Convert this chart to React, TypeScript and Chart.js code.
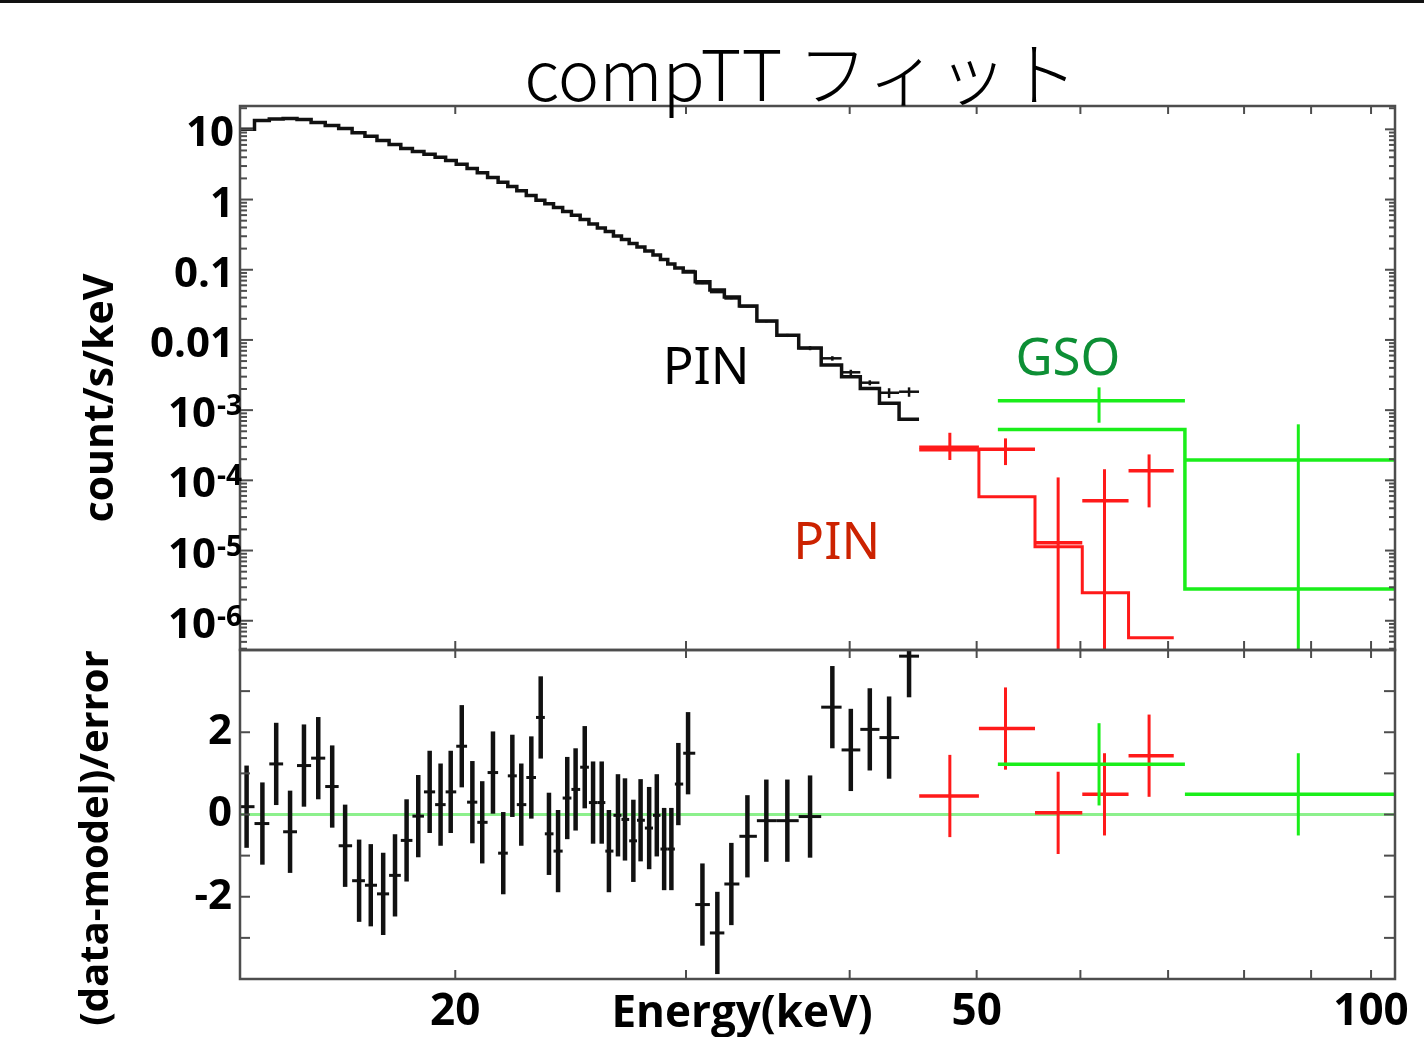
import React, { useEffect, useRef } from "react";
import { Chart, registerables } from "chart.js";

Chart.register(...registerables);

const W = 1424;
const H = 1037;

// ---------- axis ranges / ticks ----------
const xMin = 13.7;
const xMax = 104.3;
const yTopMin = 3.83e-7;
const yTopMax = 21.5;
const resMin = -4;
const resMax = 4;

const xTickValues = [20, 30, 40, 50, 60, 70, 80, 90, 100];
const xLabelValues = [20, 50, 100];
const topLabelValues = [10, 1, 0.1, 0.01, 1e-3, 1e-4, 1e-5, 1e-6];
const topLabelBase = ["10", "1", "0.1", "0.01", "10", "10", "10", "10"];
const topLabelSup = ["", "", "", "", "-3", "-4", "-5", "-6"];
const resTickValues = [-3, -2, -1, 0, 1, 2, 3];
const resLabelValues = [-2, 0, 2];

// ---------- PIN (black) : bin centres (keV), model, residuals ----------
const pinEnergy = [
  13.86, 14.25, 14.6, 14.96, 15.33, 15.72, 16.11, 16.48, 16.89, 17.24,
  17.62, 17.99, 18.36, 18.74, 19.12, 19.49, 19.84, 20.23, 20.61, 20.97,
  21.37, 21.76, 22.11, 22.46, 22.86, 23.24, 23.58, 23.96, 24.35, 24.71,
  25.11, 25.48, 25.87, 26.2, 26.62, 26.95, 27.35, 27.7, 28.12, 28.5,
  28.87, 29.24, 29.6, 30.11, 30.88, 31.7, 32.49, 33.42, 34.55, 35.85,
  37.31, 38.8, 40.08, 41.44, 42.87, 44.4,
];
const pinModel = [
  10.0, 13.35, 14.02, 14.25, 13.79, 12.5, 11.33, 10.27, 8.92, 7.95,
  6.93, 6.07, 5.33, 4.83, 4.4, 4.01, 3.59, 3.17, 2.77, 2.4,
  2.06, 1.76, 1.53, 1.33, 1.14, 0.977, 0.868, 0.769, 0.675, 0.598,
  0.519, 0.45, 0.393, 0.35, 0.302, 0.269, 0.236, 0.211, 0.185, 0.162,
  0.14, 0.121, 0.106, 0.0927, 0.0675, 0.0514, 0.0408, 0.0304, 0.0186, 0.0117,
  0.00766, 0.00439, 0.00299, 0.00204, 0.00125, 0.000739,
];
const pinResid = [
  0.19, -0.22, 1.23, -0.42, 1.19, 1.37, 0.68, -0.76, -1.61, -1.72,
  -1.93, -1.48, -0.63, -0.04, 0.55, 0.24, 0.55, 1.66, 0.3, -0.19,
  1.02, -0.94, 0.94, 0.24, 0.9, 2.36, -0.47, -0.89, 0.4, 0.61,
  1.15, 0.29, 0.29, -0.89, -0.02, -0.12, -0.64, -0.14, -0.33, -0.02,
  -0.84, -0.84, 0.74, 1.49, -2.19, -2.88, -1.69, -0.53, -0.15, -0.15,
  -0.05, 2.61, 1.57, 2.07, 1.87, 3.85,
];
// visible PIN data crosses in the upper panel (last bins)
const pinTailStart = 43;
const pinTailData = [0.096, 0.064, 0.048, 0.039, 0.03, 0.0185, 0.0116, 0.00764, 0.00547, 0.00346, 0.00246, 0.00177, 0.00183];
const pinTailErr = [0.0022, 0.0016, 0.0012, 0.001, 0.0008, 0.0007, 0.0006, 0.0005, 0.0004, 0.0003, 0.0002, 0.00028, 0.00028];

// ---------- PIN (red, high energy) ----------
const redEdges = [45.2, 50.2, 55.4, 60.2, 65.3, 70.7];
const redModel = [2.7e-4, 5.83e-5, 1.13e-5, 2.51e-6, 5.73e-7];
const redEnergy = [47.7, 52.6, 57.7, 62.6, 67.7];
const redData = [2.95e-4, 2.77e-4, 1.29e-5, 5.12e-5, 1.37e-4];
const redLow = [1.95e-4, 1.65e-4, 0, 0, 4.12e-5];
const redHigh = [4.76e-4, 3.96e-4, 1.1e-4, 1.44e-4, 2.34e-4];
const redResid = [0.45, 2.09, 0.04, 0.49, 1.43];

// ---------- GSO (green) ----------
const gsoEdges = [51.9, 72.1, 106];
const gsoModel = [5.32e-4, 2.83e-6];
const gsoEnergy = [62.0, 88.0];
const gsoData = [1.36e-3, 1.95e-4];
const gsoLow = [6.62e-4, 0];
const gsoHigh = [2.11e-3, 6.28e-4];
const gsoResid = [1.22, 0.49];

// ---------- annotations ----------
const noteText = ["PIN", "PIN", "GSO"];
const noteEnergy = [31.08, 39.1, 58.7];
const noteValue = [4.25e-3, 1.365e-5, 5.71e-3];
const noteColor = ["#000000", "#cc2200", "#0d8f35"];

const BLACK = "#111111";
const RED = "#ff1a1a";
const GREEN = "#1aee1a";
const ZERO = "#8cf08c";
const FRAME = "#4d4d4d";
const SANS = '"Open Sans", "DejaVu Sans", sans-serif';

function binEdges(c: number[]) {
  const lo: number[] = [];
  const hi: number[] = [];
  for (let i = 0; i < c.length; i++) {
    const l = i > 0 ? Math.sqrt(c[i - 1] * c[i]) : (c[0] * c[0]) / Math.sqrt(c[0] * c[1]);
    const h = i < c.length - 1 ? Math.sqrt(c[i] * c[i + 1]) : (c[i] * c[i]) / Math.sqrt(c[i - 1] * c[i]);
    lo.push(l);
    hi.push(h);
  }
  return { lo, hi };
}

function stepPoints(lo: number[], hi: number[], v: number[]) {
  const pts = lo.map((x, i) => ({ x, y: v[i] }));
  pts.push({ x: hi[hi.length - 1], y: v[v.length - 1] });
  return pts;
}

function line(ctx: CanvasRenderingContext2D, x1: number, y1: number, x2: number, y2: number) {
  ctx.beginPath();
  ctx.moveTo(x1, y1);
  ctx.lineTo(x2, y2);
  ctx.stroke();
}

function drawErrorBars(chart: any) {
  const { ctx, chartArea: a } = chart;
  ctx.save();
  ctx.beginPath();
  ctx.rect(a.left, a.top, a.right - a.left, a.bottom - a.top);
  ctx.clip();
  chart.data.datasets.forEach((ds: any, i: number) => {
    if (!ds.bars) return;
    const meta = chart.getDatasetMeta(i);
    const xs = chart.scales[meta.xAxisID];
    const ys = chart.scales[meta.yAxisID];
    const cy = (v: number) => (ys.type === "logarithmic" ? Math.max(v, ys.min * 0.5) : v);
    ctx.strokeStyle = ds.borderColor;
    ctx.lineCap = "butt";
    for (const b of ds.bars) {
      const yc = ys.getPixelForValue(cy(b.y));
      ctx.lineWidth = ds.hWidth;
      line(ctx, xs.getPixelForValue(b.xLo), yc, xs.getPixelForValue(b.xHi), yc);
      const xc = xs.getPixelForValue(b.x);
      ctx.lineWidth = ds.vWidth;
      line(ctx, xc, ys.getPixelForValue(cy(b.yLo)), xc, ys.getPixelForValue(cy(b.yHi)));
    }
  });
  ctx.restore();
}

function drawFrame(chart: any, panel: "top" | "bottom") {
  const { ctx, chartArea: a } = chart;
  const xs = chart.scales.x;
  const ys = chart.scales.y;
  ctx.save();
  ctx.strokeStyle = FRAME;
  ctx.lineWidth = 2.5;
  ctx.strokeRect(a.left, a.top, a.right - a.left, a.bottom - a.top);
  ctx.lineWidth = 2;
  for (const v of xTickValues) {
    const px = xs.getPixelForValue(v);
    line(ctx, px, a.top, px, a.top + 8);
    line(ctx, px, a.bottom, px, a.bottom - 9);
  }
  if (panel === "top") {
    for (let e = -7; e <= 1; e++) {
      for (let m = 1; m <= 9; m++) {
        const v = m * Math.pow(10, e);
        if (v < ys.min || v > ys.max) continue;
        const py = ys.getPixelForValue(v);
        line(ctx, a.left, py, a.left + (m === 1 ? 13 : 7), py);
        line(ctx, a.right, py, a.right - (m === 1 ? 10 : 6), py);
      }
    }
  } else {
    for (const v of resTickValues) {
      const py = ys.getPixelForValue(v);
      line(ctx, a.left, py, a.left + 10, py);
      line(ctx, a.right, py, a.right - 11, py);
    }
  }
  ctx.restore();
}

function drawTopDecor(chart: any) {
  const { ctx } = chart;
  const xs = chart.scales.x;
  const ys = chart.scales.y;
  ctx.save();
  // thin dark rule at the very top of the page
  ctx.fillStyle = "#111";
  ctx.fillRect(0, 0, W, 3);

  // title
  ctx.fillStyle = "#000";
  ctx.font = '300 70px "Noto Sans CJK JP", "Noto Sans", sans-serif';
  ctx.textAlign = "center";
  ctx.textBaseline = "alphabetic";
  ctx.fillText("compTT フィット", 801, 101);

  // y tick labels (with superscript exponents)
  ctx.textBaseline = "alphabetic";
  ctx.textAlign = "right";
  topLabelValues.forEach((v, i) => {
    const py = ys.getPixelForValue(v);
    const base = py + 17;
    if (!topLabelSup[i]) {
      ctx.font = `bold 42px ${SANS}`;
      ctx.fillText(topLabelBase[i], 234, base);
    } else {
      ctx.font = `bold 28px ${SANS}`;
      const sw = ctx.measureText(topLabelSup[i]).width;
      ctx.fillText(topLabelSup[i], 242, base - 12);
      ctx.font = `bold 42px ${SANS}`;
      ctx.fillText(topLabelBase[i], 242 - sw - 1, base);
    }
  });

  // y axis title
  ctx.save();
  ctx.translate(113, 398);
  ctx.rotate(-Math.PI / 2);
  ctx.font = `bold 41px ${SANS}`;
  ctx.textAlign = "center";
  ctx.textBaseline = "alphabetic";
  ctx.fillText("count/s/keV", 0, 0);
  ctx.restore();

  // annotations
  ctx.textAlign = "center";
  ctx.font = '51px "Noto Sans", "Liberation Sans", sans-serif';
  noteText.forEach((t, i) => {
    ctx.fillStyle = noteColor[i];
    const px = xs.getPixelForValue(noteEnergy[i]);
    const py = ys.getPixelForValue(noteValue[i]);
    ctx.fillText(t, px, py + 18);
  });
  ctx.restore();
}

function drawBottomDecor(chart: any) {
  const { ctx } = chart;
  ctx.save();
  ctx.fillStyle = "#000";
  ctx.font = `bold 44px ${SANS}`;
  ctx.textAlign = "center";
  ctx.textBaseline = "alphabetic";
  ctx.fillText("Energy(keV)", 742, 1027);
  ctx.save();
  ctx.translate(108, 838);
  ctx.rotate(-Math.PI / 2);
  ctx.font = `bold 40px ${SANS}`;
  ctx.fillText("(data-model)/error", 0, 0);
  ctx.restore();
  ctx.restore();
}

function topConfig(): any {
  const pin = binEdges(pinEnergy);
  const pinTail = pinTailData.map((d, k) => {
    const i = pinTailStart + k;
    return { x: pinEnergy[i], y: d, xLo: pin.lo[i], xHi: pin.hi[i], yLo: d - pinTailErr[k], yHi: d + pinTailErr[k] };
  });
  const redBars = redData.map((d, i) => ({
    x: redEnergy[i], y: d, xLo: redEdges[i], xHi: redEdges[i + 1], yLo: redLow[i], yHi: redHigh[i],
  }));
  const gsoBars = gsoData.map((d, i) => ({
    x: gsoEnergy[i], y: d, xLo: gsoEdges[i], xHi: gsoEdges[i + 1], yLo: gsoLow[i], yHi: gsoHigh[i],
  }));
  return {
    type: "scatter",
    data: {
      datasets: [
        {
          label: "PIN model",
          data: stepPoints(pin.lo, pin.hi, pinModel),
          showLine: true, stepped: true, borderColor: BLACK, borderWidth: 3.5, pointRadius: 0,
        },
        {
          label: "HXD-PIN model (high)",
          data: stepPoints(redEdges.slice(0, -1), redEdges.slice(1), redModel),
          showLine: true, stepped: true, borderColor: RED, borderWidth: 3, pointRadius: 0,
        },
        {
          label: "GSO model",
          data: stepPoints(gsoEdges.slice(0, -1), gsoEdges.slice(1), gsoModel),
          showLine: true, stepped: true, borderColor: GREEN, borderWidth: 3.5, pointRadius: 0,
        },
        {
          label: "PIN data",
          data: pinTail.map((b) => ({ x: b.x, y: b.y })),
          bars: pinTail, borderColor: BLACK, hWidth: 2.5, vWidth: 2.5, pointRadius: 0,
        },
        {
          label: "PIN data (high)",
          data: redBars.map((b) => ({ x: b.x, y: b.y })),
          bars: redBars, borderColor: RED, hWidth: 3.5, vWidth: 3, pointRadius: 0,
        },
        {
          label: "GSO data",
          data: gsoBars.map((b) => ({ x: b.x, y: b.y })),
          bars: gsoBars, borderColor: GREEN, hWidth: 3.5, vWidth: 3, pointRadius: 0,
        },
      ],
    },
    options: {
      responsive: false,
      animation: false,
      events: [],
      layout: { autoPadding: false, padding: { left: 0, right: W - 1395, top: 106, bottom: H - 650 } },
      plugins: { legend: { display: false }, tooltip: { enabled: false }, title: { display: false } },
      scales: {
        x: { type: "logarithmic", min: xMin, max: xMax, display: false },
        y: {
          type: "logarithmic", min: yTopMin, max: yTopMax, position: "left",
          grid: { display: false, drawTicks: false }, border: { display: false },
          ticks: { display: false },
          afterFit: (s: any) => { s.width = 240; s.paddingTop = 0; s.paddingBottom = 0; },
        },
      },
    },
    plugins: [
      {
        id: "topPanel",
        afterDatasetsDraw: (c: any) => drawErrorBars(c),
        afterDraw: (c: any) => { drawFrame(c, "top"); drawTopDecor(c); },
      },
    ],
  };
}

function bottomConfig(): any {
  const pin = binEdges(pinEnergy);
  const blackBars = pinResid.map((r, i) => ({ x: pinEnergy[i], y: r, xLo: pin.lo[i], xHi: pin.hi[i], yLo: r - 1, yHi: r + 1 }));
  const redBars = redResid.map((r, i) => ({ x: redEnergy[i], y: r, xLo: redEdges[i], xHi: redEdges[i + 1], yLo: r - 1, yHi: r + 1 }));
  const gsoBars = gsoResid.map((r, i) => ({ x: gsoEnergy[i], y: r, xLo: gsoEdges[i], xHi: gsoEdges[i + 1], yLo: r - 1, yHi: r + 1 }));
  const font = { family: SANS, weight: "bold", lineHeight: 1 };
  return {
    type: "scatter",
    data: {
      datasets: [
        {
          label: "zero",
          data: [{ x: xMin, y: 0 }, { x: xMax, y: 0 }],
          showLine: true, borderColor: ZERO, borderWidth: 3, pointRadius: 0,
        },
        {
          label: "PIN residuals",
          data: blackBars.map((b) => ({ x: b.x, y: b.y })),
          bars: blackBars, borderColor: BLACK, hWidth: 3, vWidth: 4.5, pointRadius: 0,
        },
        {
          label: "PIN residuals (high)",
          data: redBars.map((b) => ({ x: b.x, y: b.y })),
          bars: redBars, borderColor: RED, hWidth: 3.5, vWidth: 3, pointRadius: 0,
        },
        {
          label: "GSO residuals",
          data: gsoBars.map((b) => ({ x: b.x, y: b.y })),
          bars: gsoBars, borderColor: GREEN, hWidth: 3.5, vWidth: 3, pointRadius: 0,
        },
      ],
    },
    options: {
      responsive: false,
      animation: false,
      events: [],
      layout: { autoPadding: false, padding: { left: 0, right: W - 1395, top: 650, bottom: 0 } },
      plugins: { legend: { display: false }, tooltip: { enabled: false }, title: { display: false } },
      scales: {
        x: {
          type: "logarithmic", min: xMin, max: xMax, position: "bottom",
          grid: { display: false, drawTicks: false }, border: { display: false },
          ticks: {
            autoSkip: false, maxRotation: 0, minRotation: 0, padding: 11, color: "#000",
            font: { ...font, size: 44 }, callback: (v: any) => String(v),
          },
          afterBuildTicks: (s: any) => { s.ticks = xLabelValues.map((v) => ({ value: v })); },
          afterFit: (s: any) => { s.height = H - 979; s.paddingLeft = 0; s.paddingRight = 0; },
        },
        y: {
          type: "linear", min: resMin, max: resMax, position: "left",
          grid: { display: false, drawTicks: false }, border: { display: false },
          ticks: { padding: 8, color: "#000", font: { ...font, size: 42 }, callback: (v: any) => String(v) },
          afterBuildTicks: (s: any) => { s.ticks = resLabelValues.map((v) => ({ value: v })); },
          afterFit: (s: any) => { s.width = 240; s.paddingTop = 0; s.paddingBottom = 0; },
        },
      },
    },
    plugins: [
      {
        id: "bottomPanel",
        afterDatasetsDraw: (c: any) => drawErrorBars(c),
        afterDraw: (c: any) => { drawFrame(c, "bottom"); drawBottomDecor(c); },
      },
    ],
  };
}

export default function App() {
  const topRef = useRef<HTMLCanvasElement>(null);
  const botRef = useRef<HTMLCanvasElement>(null);
  useEffect(() => {
    const top = new Chart(topRef.current as HTMLCanvasElement, topConfig());
    const bot = new Chart(botRef.current as HTMLCanvasElement, bottomConfig());
    return () => {
      top.destroy();
      bot.destroy();
    };
  }, []);
  return (
    <div style={{ position: "absolute", left: 0, top: 0, width: W, height: H, background: "#fff" }}>
      <canvas ref={topRef} width={W} height={H} style={{ position: "absolute", left: 0, top: 0 }} />
      <canvas ref={botRef} width={W} height={H} style={{ position: "absolute", left: 0, top: 0 }} />
    </div>
  );
}
